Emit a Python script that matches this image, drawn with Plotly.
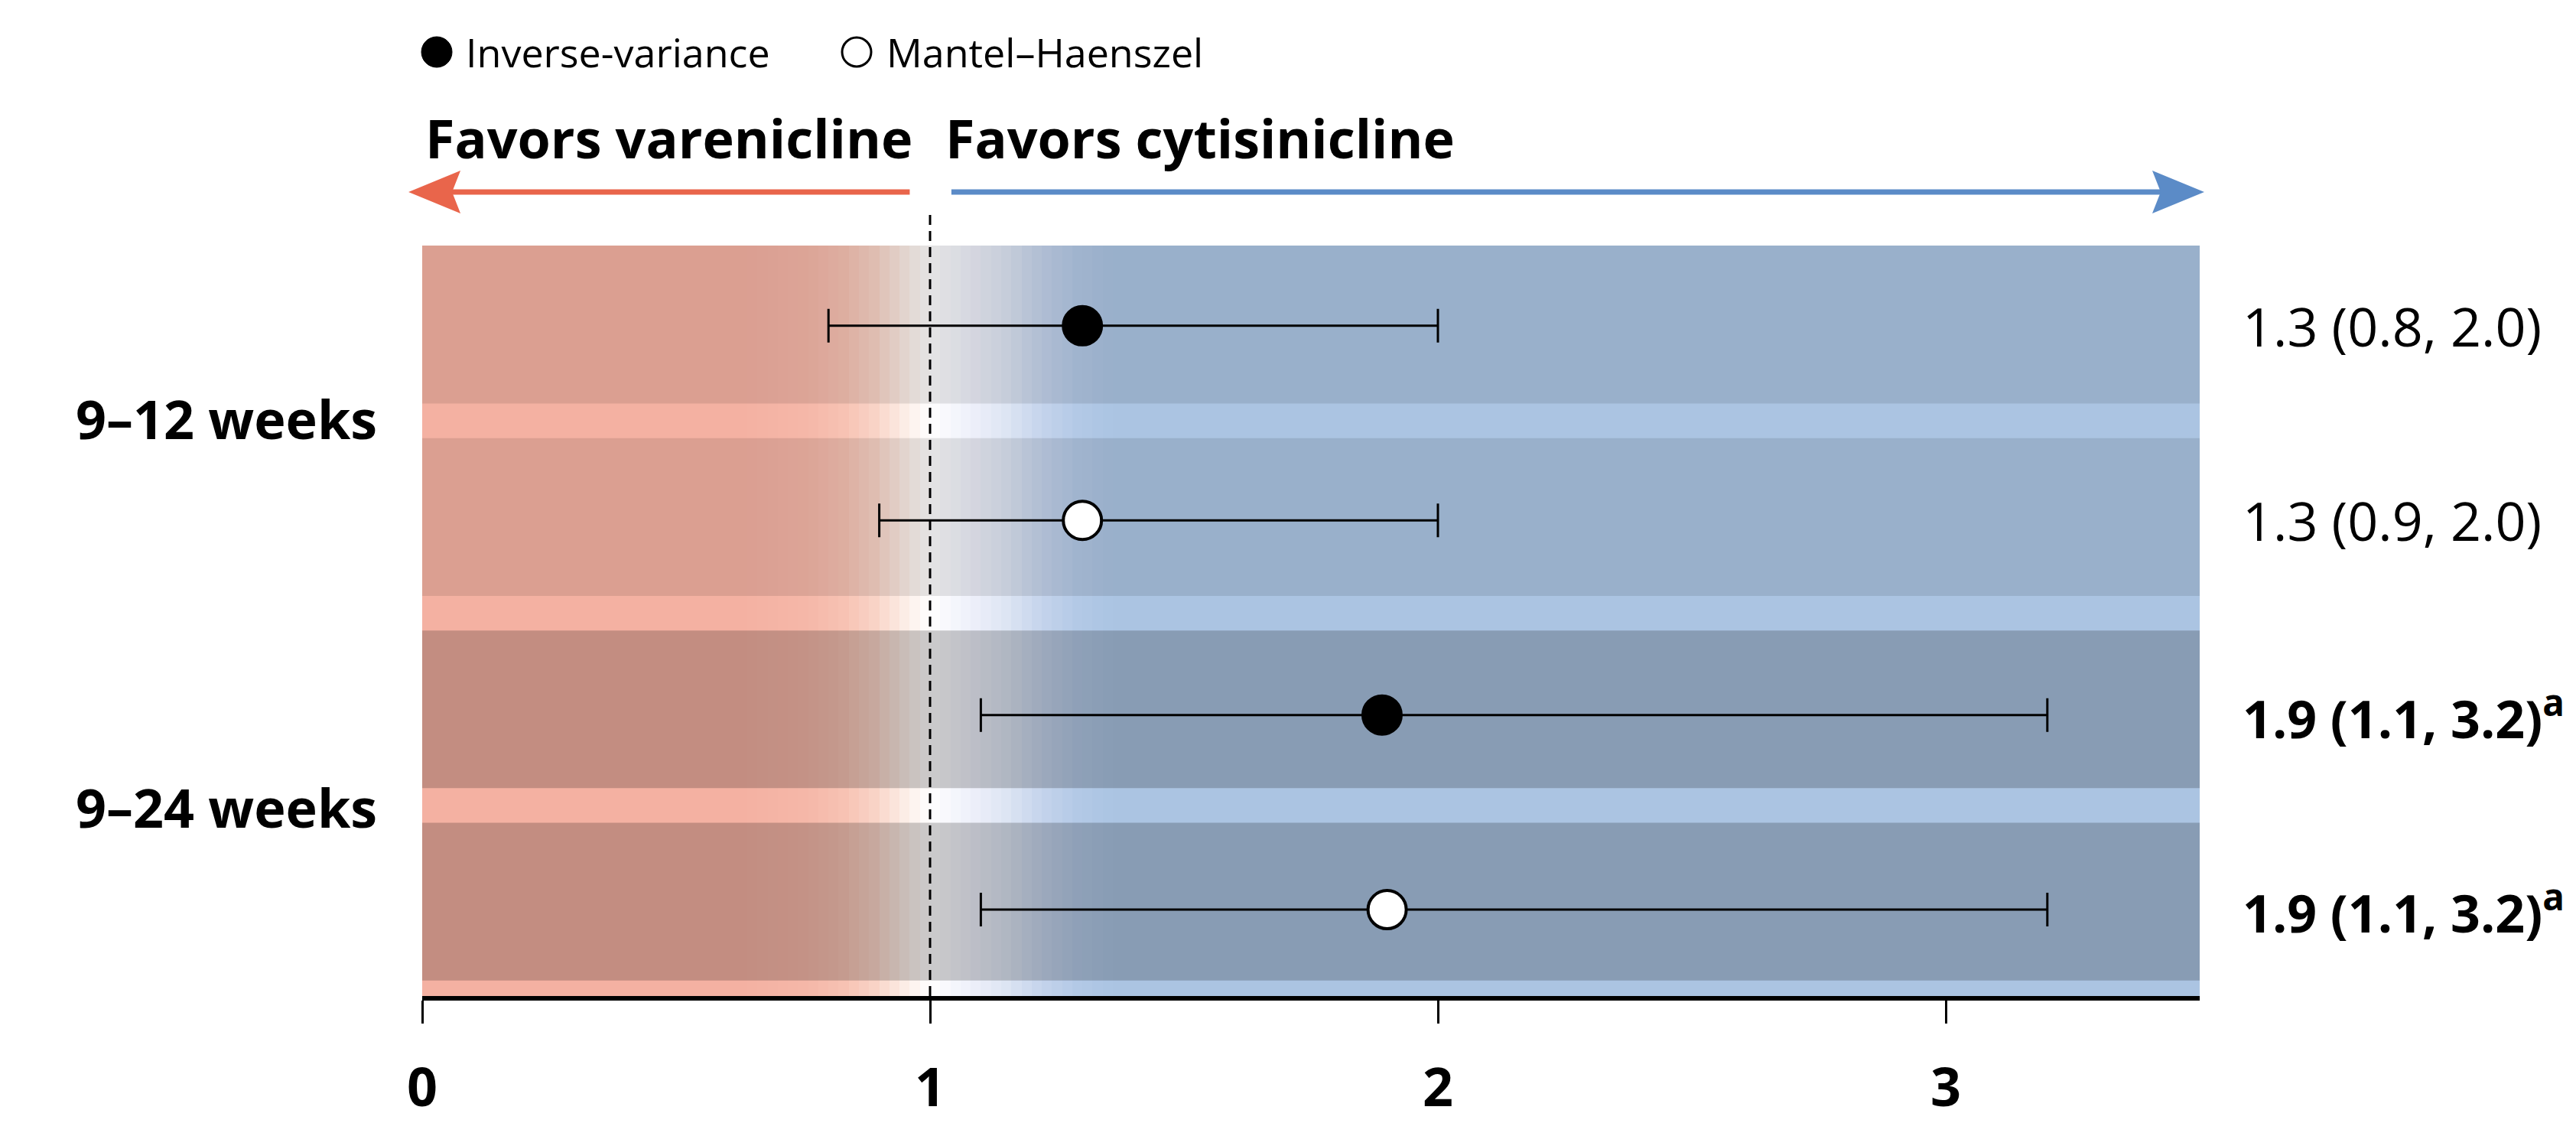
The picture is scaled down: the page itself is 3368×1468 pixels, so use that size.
import numpy as np
import plotly.graph_objects as go

# ---------------- data ----------------
groups = ["9–12 weeks", "9–24 weeks"]
methods = ["Inverse-variance", "Mantel–Haenszel"]
row_group = [0, 0, 1, 1]
row_method = [0, 1, 0, 1]
estimates = [1.3, 1.3, 1.89, 1.9]
ci_low = [0.8, 0.9, 1.1, 1.1]
ci_high = [2.0, 2.0, 3.2, 3.2]
row_labels = ["1.3 (0.8, 2.0)", "1.3 (0.9, 2.0)",
              "1.9 (1.1, 3.2)<sup>a</sup>", "1.9 (1.1, 3.2)<sup>a</sup>"]
significant = [False, False, True, True]
tick_vals = [0, 1, 2, 3]
tick_text = ["0", "1", "2", "3"]
left_side_label = "Favors varenicline"
right_side_label = "Favors cytisinicline"

# ---------------- layout constants ----------------
OFF = 8  # page body margin
W, H = 3368 - OFF, 1468 - OFF
ML, MT = 552 - OFF, 321 - OFF
MR = W - (2876 - OFF)
MB = H - (1302 - OFF)
PW, PH = W - ML - MR, H - MT - MB
X_RANGE = [0, 3.5]
Y_TOP, Y_BOT = -0.412, 3.444
FONT = "Open Sans"

RED_L = "#F4B1A2"
BLUE_L = "#ABC4E2"
RED_ARROW = "#E9654B"
BLUE_ARROW = "#5B8BC7"


def px_x(px):
    return (px - OFF - ML) / PW


def px_y(py):
    return (H - MB - (py - OFF)) / PH


def dx_paper(x):
    return (x - X_RANGE[0]) / (X_RANGE[1] - X_RANGE[0])


fig = go.Figure()

# ---------- background gradient ----------
xmax = X_RANGE[1]
stops = [(0.0, RED_L), (0.64, RED_L), (0.76, "#F5B7A8"), (0.83, "#F7C2B3"),
         (0.89, "#F9D3C6"), (0.95, "#FCEDE6"), (1.0, "#FFFFFF"), (1.08, "#EEF0FA"),
         (1.15, "#DDE5F3"), (1.22, "#C5D4EC"), (1.29, "#B3C9E6"), (1.36, BLUE_L),
         (xmax, BLUE_L)]
cscale = [[s / xmax, c] for s, c in stops]
edges = np.round(np.arange(0, xmax + 1e-9, 0.02), 4)
centers = (edges[:-1] + edges[1:]) / 2
fig.add_trace(go.Heatmap(x=edges, y=[Y_TOP, Y_BOT], z=[centers], zmin=0, zmax=xmax,
                         colorscale=cscale, showscale=False, hoverinfo="skip"))

# ---------- darker row bands ----------
for r in range(len(estimates)):
    top = r - 0.41 - 0.012 * r
    bot = r + 0.40 - 0.012 * r
    if r == 0:
        top = Y_TOP
    alpha = 0.2 if significant[r] else 0.1
    fig.add_trace(go.Scatter(
        x=[X_RANGE[0], X_RANGE[1], X_RANGE[1], X_RANGE[0], X_RANGE[0]],
        y=[top, top, bot, bot, top], mode="lines", fill="toself",
        fillcolor=f"rgba(0,0,0,{alpha})", line=dict(width=0, color="rgba(0,0,0,0)"),
        hoverinfo="skip", showlegend=False))

# ---------- estimates with CIs ----------
for m in range(len(methods)):
    idx = [i for i in range(len(estimates)) if row_method[i] == m]
    xs = [estimates[i] for i in idx]
    ys = idx
    plus = [ci_high[i] - estimates[i] for i in idx]
    minus = [estimates[i] - ci_low[i] for i in idx]
    if m == 0:
        marker = dict(size=52, color="black", line=dict(width=2, color="black"))
    else:
        marker = dict(size=50, color="white", line=dict(width=4, color="black"))
    fig.add_trace(go.Scatter(
        x=xs, y=ys, mode="markers", marker=marker, name=methods[m], showlegend=False,
        error_x=dict(type="data", symmetric=False, array=plus, arrayminus=minus,
                     color="black", thickness=3, width=22)))

shapes = []
annotations = []

# dashed null line
shapes.append(dict(type="line", xref="x", yref="paper", x0=1, x1=1, y0=0, y1=px_y(275),
                   line=dict(color="black", width=3, dash="13px,8px"), layer="above"))

# direction arrows
arrow_y = px_y(251)
HL, HN, HH = 68, 57, 28


def add_arrow(x_from, x_tip, color, direction):
    sgn = 1 if direction == "left" else -1
    shapes.append(dict(type="line", xref="paper", yref="paper",
                       x0=dx_paper(x_from), x1=dx_paper(x_tip) + sgn * 50 / PW,
                       y0=arrow_y, y1=arrow_y, line=dict(color=color, width=7)))
    pts = [(0, 0), (sgn * HL, HH), (sgn * HN, 0), (sgn * HL, -HH)]
    path = "M" + " L".join(f"{a},{b}" for a, b in pts) + " Z"
    shapes.append(dict(type="path", xref="paper", yref="paper", xsizemode="pixel",
                       ysizemode="pixel", xanchor=dx_paper(x_tip), yanchor=arrow_y,
                       path=path, fillcolor=color, line=dict(width=0)))


add_arrow(0.96, -0.027, RED_ARROW, "left")
add_arrow(1.042, 3.509, BLUE_ARROW, "right")

annotations.append(dict(text=f"<b>{left_side_label}</b>", xref="paper", yref="paper",
                        x=px_x(554), y=px_y(180), xanchor="left", yanchor="middle",
                        showarrow=False, font=dict(size=70, family=FONT, color="black")))
annotations.append(dict(text=f"<b>{right_side_label}</b>", xref="paper", yref="paper",
                        x=px_x(1234), y=px_y(180), xanchor="left", yanchor="middle",
                        showarrow=False, font=dict(size=70, family=FONT, color="black")))

# custom legend
leg_y = px_y(68)
legend_items = [(571, 607, "black", 0), (1120, 1157, "white", 3)]
for m, (cx, tx, fill, lw) in enumerate(legend_items):
    r = 20 if lw == 0 else 19
    shapes.append(dict(type="circle", xref="paper", yref="paper", xsizemode="pixel",
                       ysizemode="pixel", xanchor=px_x(cx), yanchor=leg_y,
                       x0=-r, x1=r, y0=-r, y1=r, fillcolor=fill,
                       line=dict(color="black", width=lw if lw else 1)))
    annotations.append(dict(text=methods[m], xref="paper", yref="paper", x=px_x(tx),
                            y=leg_y, xanchor="left", yanchor="middle", showarrow=False,
                            font=dict(size=52, family=FONT, color="black")))

# group labels
for g, name in enumerate(groups):
    rows = [i for i in range(len(row_group)) if row_group[i] == g]
    annotations.append(dict(text=f"<b>{name}</b>", xref="paper", yref="y",
                            x=px_x(495), y=sum(rows) / len(rows) - 0.025, xanchor="right",
                            yanchor="middle", showarrow=False,
                            font=dict(size=70, family=FONT, color="black")))

# estimate labels
for i, lab in enumerate(row_labels):
    txt = f"<b>{lab}</b>" if significant[i] else lab
    annotations.append(dict(text=txt, xref="paper", yref="y", x=px_x(2930), y=i,
                            xanchor="left", yanchor="middle", showarrow=False,
                            font=dict(size=68 if significant[i] else 70, family=FONT,
                                      color="black")))

fig.update_layout(
    width=W, height=H,
    margin=dict(l=ML, r=MR, t=MT, b=MB, pad=0),
    paper_bgcolor="white", plot_bgcolor="white",
    font=dict(family=FONT, color="black"),
    showlegend=False,
    shapes=shapes, annotations=annotations,
    xaxis=dict(range=X_RANGE, showgrid=False, zeroline=False, showline=True,
               linecolor="black", linewidth=6, ticks="outside", ticklen=30,
               tickwidth=3, tickcolor="black", tickvals=tick_vals,
               ticktext=[f"<b>{t}</b>" for t in tick_text], ticklabelstandoff=24,
               tickfont=dict(size=70, family=FONT, color="black"), fixedrange=True,
               automargin=False),
    yaxis=dict(range=[Y_BOT, Y_TOP], visible=False, showgrid=False, zeroline=False,
               fixedrange=True, automargin=False),
)

fig.write_html("out.html")
